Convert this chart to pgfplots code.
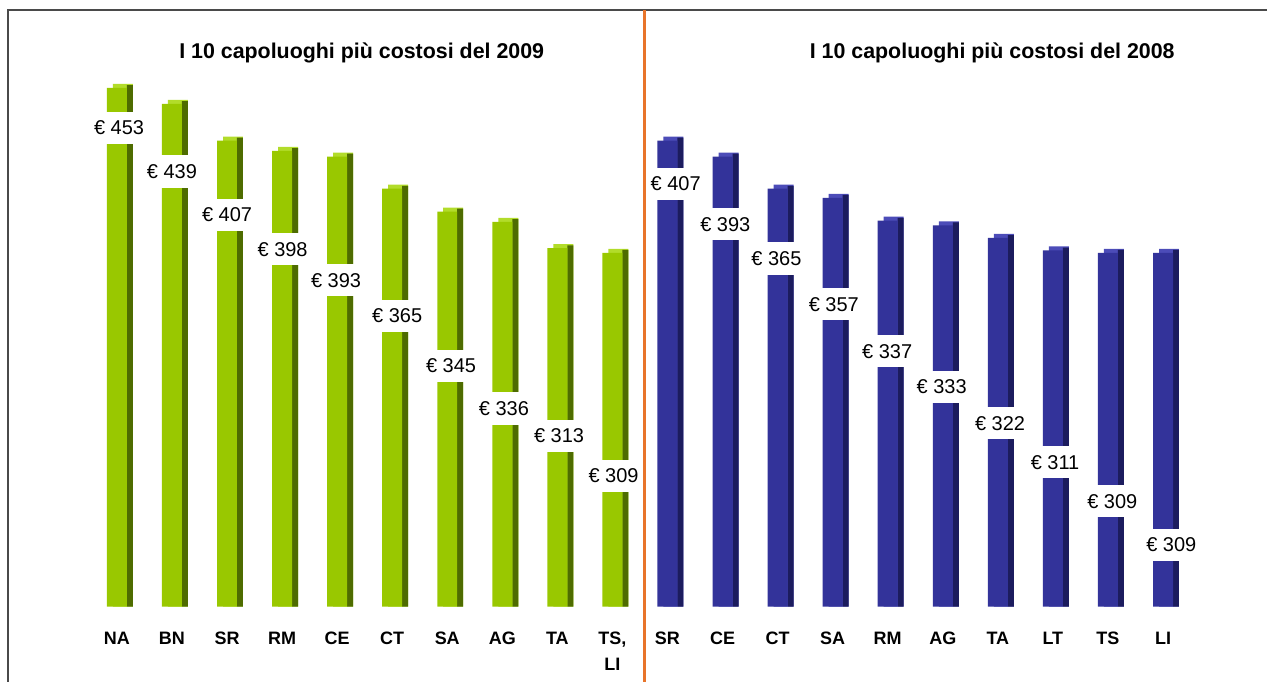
\documentclass[border=0pt]{standalone}
\usepackage{fontspec}
\setmainfont{Liberation Sans}
\usepackage{pgfplots}
\usepackage{pgfplotstable}
\pgfplotsset{compat=1.18}

\definecolor{gfront}{HTML}{99C800}
\definecolor{gside}{HTML}{4E6C00}
\definecolor{gtop}{HTML}{B2DC2A}
\definecolor{bfront}{HTML}{33339A}
\definecolor{bside}{HTML}{1C1C5E}
\definecolor{btop}{HTML}{4C4CB8}
\definecolor{sep}{HTML}{E8742A}
\definecolor{framec}{HTML}{4A4A4A}

% x = position, v = value, lx/ly = where the value label sits
\pgfplotstableread{
x v lx ly
0 453 0.04 418
1 439 1.00 380
2 407 2.00 342
3 398 3.01 312
4 393 3.98 285
5 365 5.09 254
6 345 6.07 210
7 336 7.03 173
8 313 8.03 149
9 309 9.02 114
}\lefttab

\pgfplotstableread{
x v lx ly
10 407 10.15 369
11 393 11.05 334
12 365 11.98 304
13 357 13.02 264
14 337 13.99 223
15 333 14.98 192
16 322 16.04 160
17 311 17.04 126
18 309 18.08 92
19 309 19.15 54
}\righttab

\begin{document}
\begin{tikzpicture}
\begin{axis}[
  width=634pt, height=303.5pt, scale only axis,
  xmin=-2.123, xmax=20.889, ymin=0, ymax=529.8,
  clip=false,
  hide y axis,
  axis x line*=bottom,
  x axis line style={draw=none},
  major tick length=0pt,
  xtick={0,...,19},
  xticklabels={NA,BN,SR,RM,CE,CT,SA,AG,TA,{TS,\\LI},SR,CE,CT,SA,RM,AG,TA,LT,TS,LI},
  typeset ticklabels with strut,
  xticklabel style={font=\fontsize{9}{13}\selectfont\bfseries, align=center, anchor=north, yshift=-6.5pt},
  lbl/.style={draw=none, mark=none, point meta=explicit,
    nodes near coords={€ \pgfmathprintnumber{\pgfplotspointmeta}},
    nodes near coords align=center,
    every node near coord/.append style={anchor=center, fill=white, text=black,
      /pgf/number format/assume math mode=true,
      inner xsep=1pt, inner ysep=4.5pt, font=\fontsize{10}{12}\selectfont}},
]
% 2009 (green)
\addplot[ybar, bar width=10pt, bar shift=3pt, fill=gtop, draw=none] table[x=x, y expr=\thisrow{v}+3.5] {\lefttab};
\addplot[ybar, bar width=3pt, bar shift=6.5pt, fill=gside, draw=none] table[x=x, y expr=\thisrow{v}+2.5] {\lefttab};
\addplot[ybar, bar width=10pt, bar shift=0pt, fill=gfront, draw=none] table[x=x, y=v] {\lefttab};
% 2008 (blue)
\addplot[ybar, bar width=10pt, bar shift=3pt, fill=btop, draw=none] table[x=x, y expr=\thisrow{v}+3.5] {\righttab};
\addplot[ybar, bar width=3pt, bar shift=6.5pt, fill=bside, draw=none] table[x=x, y expr=\thisrow{v}+2.5] {\righttab};
\addplot[ybar, bar width=10pt, bar shift=0pt, fill=bfront, draw=none] table[x=x, y=v] {\righttab};
% value labels
\addplot[lbl] table[x=lx, y=ly, meta=v] {\lefttab};
\addplot[lbl] table[x=lx, y=ly, meta=v] {\righttab};

\path (axis cs:-2.123,-65.5) rectangle (axis cs:20.889,529.8);
\draw[framec, line width=1pt] (axis cs:-1.978,-65.5) -- (axis cs:-1.978,521.1) -- (axis cs:20.889,521.1);
\draw[sep, line width=1.2pt] (axis cs:9.583,521.1) -- (axis cs:9.583,-65.5);
\node[font=\fontsize{10.7}{12}\selectfont\bfseries] at (axis cs:4.446,483.5) {I 10 capoluoghi più costosi del 2009};
\node[font=\fontsize{10.7}{12}\selectfont\bfseries] at (axis cs:15.898,483.5) {I 10 capoluoghi più costosi del 2008};
\end{axis}
\end{tikzpicture}
\end{document}
